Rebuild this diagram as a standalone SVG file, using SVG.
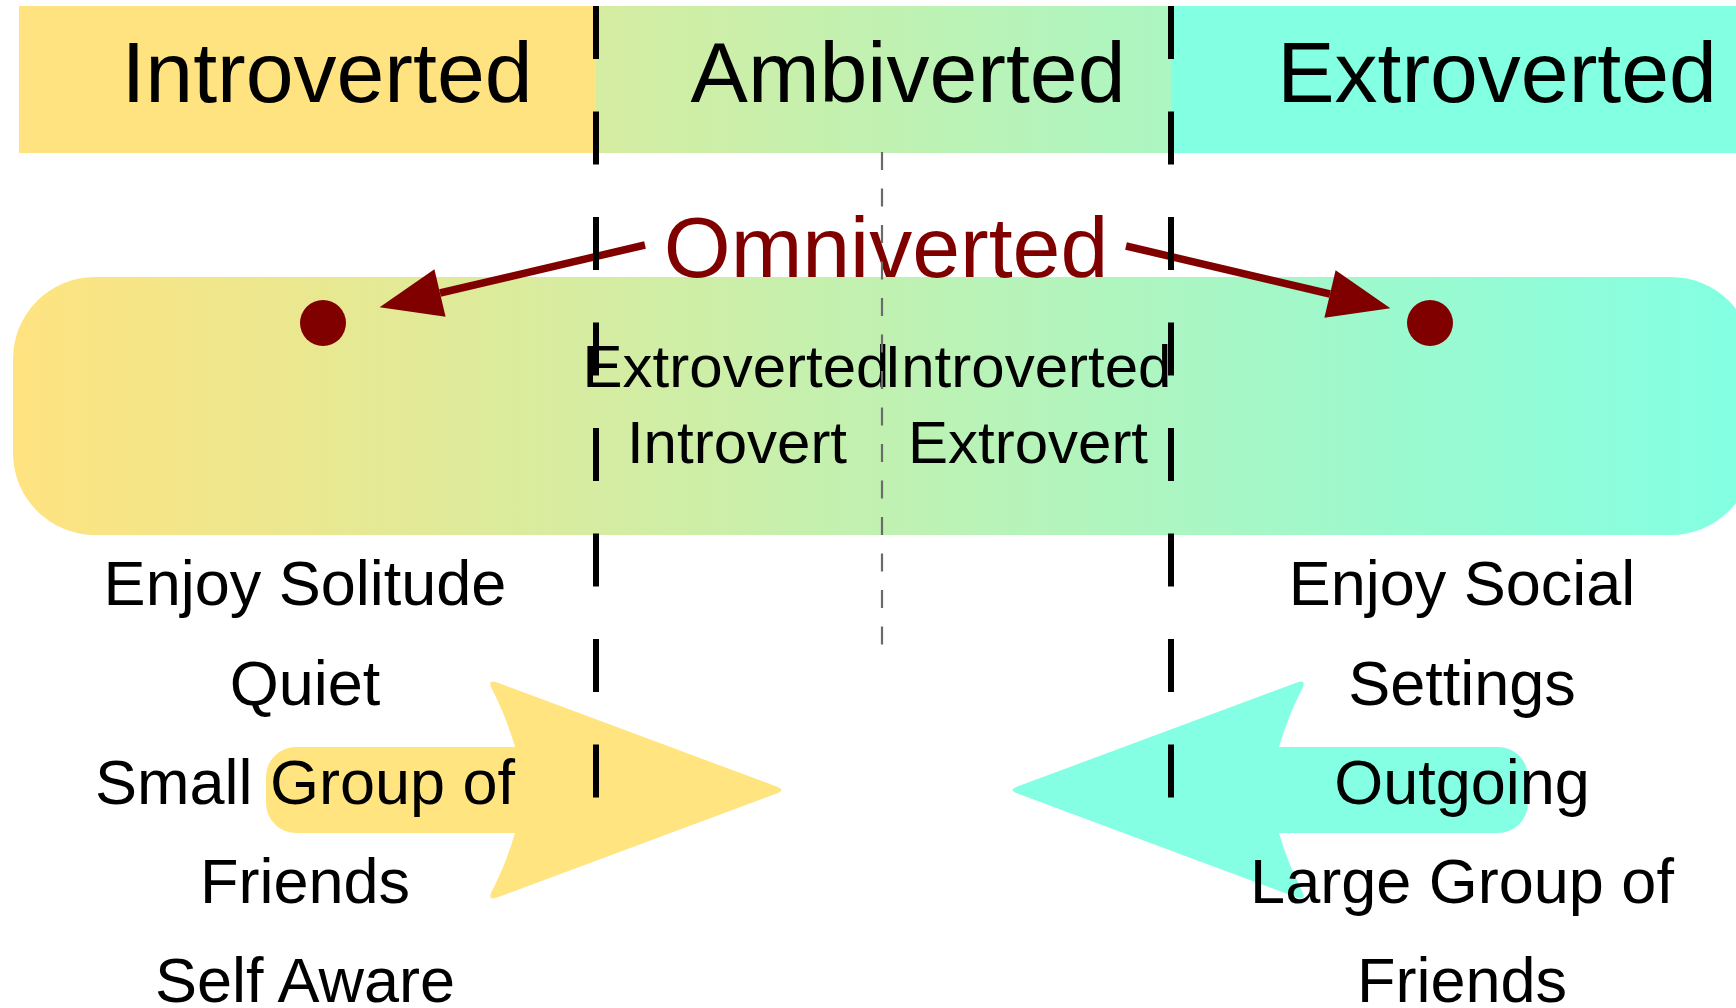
<svg xmlns="http://www.w3.org/2000/svg" width="1736" height="1008" viewBox="0 0 1736 1008">
  <style>
    text { font-family: "Liberation Sans", Arial, sans-serif; fill: #000; text-anchor: middle; }
    .big { font-size: 86px; }
    .mid { font-size: 60px; }
    .lst { font-size: 63px; }
    .omni { font-size: 86px; fill: #800000; }
    .divider { stroke: #000; stroke-width: 6; stroke-dasharray: 53 52.5; fill: none; }
    .center { stroke: #6a6a6a; stroke-width: 2.2; stroke-dasharray: 18 18.5; fill: none; }
    .conn { stroke: #800000; stroke-width: 7.5; fill: none; marker-end: url(#head); }
    .dot { fill: #800000; }
  </style>
  <defs>
    <linearGradient id="spectrum" gradientUnits="userSpaceOnUse" x1="13" y1="0" x2="1736" y2="0">
      <stop offset="0" stop-color="#FFE380"/>
      <stop offset="1" stop-color="#83FFE2"/>
    </linearGradient>
    <marker id="head" markerUnits="userSpaceOnUse" viewBox="0 -25 62 50" markerWidth="62" markerHeight="50" refX="0" refY="0" orient="auto" overflow="visible">
      <path d="M0,-24.5 L62,0 L0,24.5 Z" fill="#800000"/>
    </marker>
  </defs>

  <g id="band-introverted">
    <rect x="19" y="6" width="577" height="147" fill="#FFE380"/>
    <text class="big" x="327" y="102">Introverted</text>
  </g>
  <g id="band-ambiverted">
    <rect x="596" y="6" width="575" height="147" fill="url(#spectrum)"/>
    <text class="big" x="908" y="102">Ambiverted</text>
  </g>
  <g id="band-extroverted">
    <rect x="1171" y="6" width="565" height="147" fill="#83FFE2"/>
    <text class="big" x="1497" y="102">Extroverted</text>
  </g>

  <g id="spectrum-pill">
    <rect x="13" y="277" width="1740" height="258" rx="82" ry="82" fill="url(#spectrum)"/>
  </g>

  <g id="arrow-introvert">
    <path d="M296,747 L515,747 Q506,716 491,687 Q488,679 497,682.5 L776.6,786.5 Q786,790 776.6,793.5 L497,897.5 Q488,901 491,893 Q506,864 515,833 L296,833 A30,30 0 0 1 266,803 L266,777 A30,30 0 0 1 296,747 Z" fill="#FFE480"/>
  </g>
  <g id="arrow-extrovert">
    <path d="M1498,747 L1279,747 Q1288,716 1303,687 Q1306,679 1297,682.5 L1017.4,786.5 Q1008,790 1017.4,793.5 L1297,897.5 Q1306,901 1303,893 Q1288,864 1279,833 L1498,833 A30,30 0 0 0 1528,803 L1528,777 A30,30 0 0 0 1498,747 Z" fill="#84FFE3"/>
  </g>

  <g id="omniverted">
    <text class="omni" x="886" y="277">Omniverted</text>
  </g>
  <g id="dot-left"><circle class="dot" cx="323" cy="323" r="23"/></g>
  <g id="dot-right"><circle class="dot" cx="1430" cy="323" r="23"/></g>

  <g id="extroverted-introvert">
    <text class="mid" x="736" y="387">Extroverted</text>
    <text class="mid" x="737" y="463">Introvert</text>
  </g>
  <g id="introverted-extrovert">
    <text class="mid" x="1028" y="387">Introverted</text>
    <text class="mid" x="1028" y="463">Extrovert</text>
  </g>

  <g id="introvert-traits">
    <text class="lst" x="305" y="605">Enjoy Solitude</text>
    <text class="lst" x="305" y="705">Quiet</text>
    <text class="lst" x="305" y="804">Small Group of</text>
    <text class="lst" x="305" y="903">Friends</text>
    <text class="lst" x="305" y="1002">Self Aware</text>
  </g>
  <g id="extrovert-traits">
    <text class="lst" x="1462" y="605">Enjoy Social</text>
    <text class="lst" x="1462" y="705">Settings</text>
    <text class="lst" x="1462" y="804">Outgoing</text>
    <text class="lst" x="1462" y="903">Large Group of</text>
    <text class="lst" x="1462" y="1002">Friends</text>
  </g>

  <g id="connectors">
    <line class="conn" x1="645" y1="245" x2="440" y2="293"/>
    <line class="conn" x1="1126" y1="246" x2="1330" y2="294"/>
  </g>

  <g id="dividers">
    <line class="divider" x1="596" y1="6" x2="596" y2="798"/>
    <line class="divider" x1="1171" y1="6" x2="1171" y2="798"/>
    <line class="center" x1="882" y1="152" x2="882" y2="648"/>
  </g>
</svg>
